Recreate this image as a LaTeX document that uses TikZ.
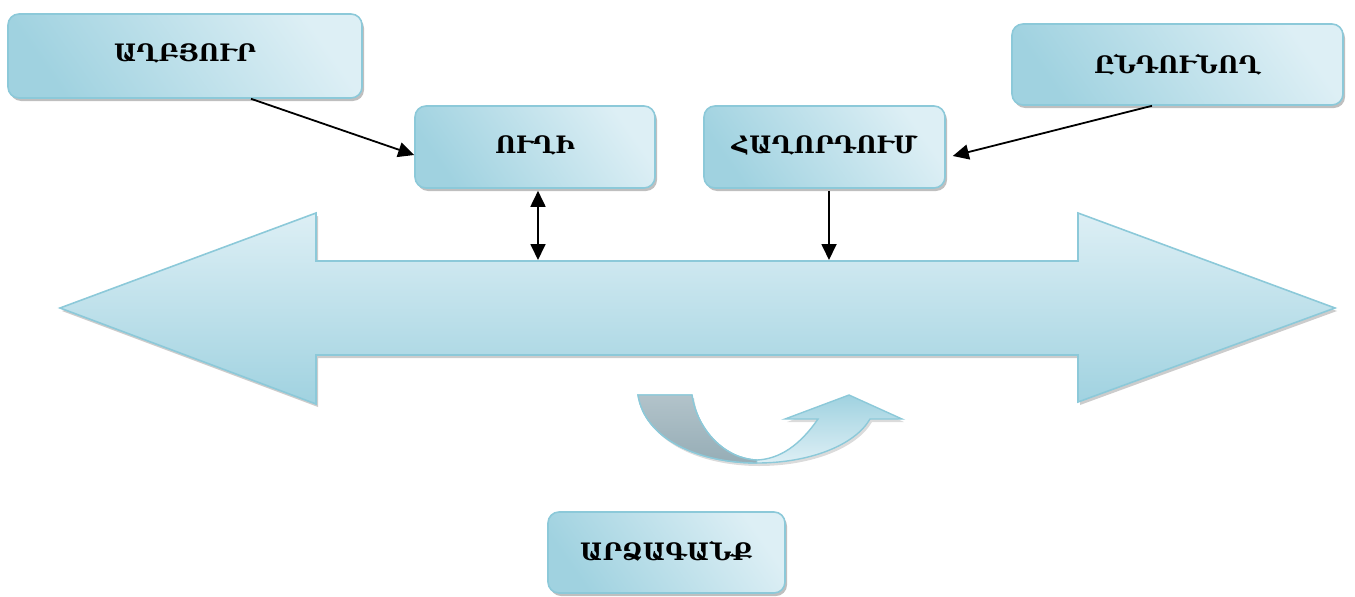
\documentclass[tikz,border=0pt]{standalone}
\usepackage{fontspec}
\setmainfont{DejaVu Serif}
\usetikzlibrary{shadows,arrows.meta,calc}
\definecolor{edgec}{HTML}{8CC9D9}
\definecolor{lightc}{HTML}{DDEFF5}
\definecolor{darkc}{HTML}{A0D2E0}
\definecolor{grayA}{HTML}{B2C3CA}
\definecolor{grayB}{HTML}{96ADB6}
\begin{document}
\begin{tikzpicture}[x=1pt,y=-1pt,
  box/.style={draw=edgec, line width=1.6pt, rounded corners=11pt,
    left color=darkc, right color=lightc, shading angle=125,
    drop shadow={shadow xshift=2pt, shadow yshift=-3pt, fill=black!50, opacity=0.5},
    font=\bfseries\fontsize{24}{28}\selectfont, text=black, inner sep=0pt},
  conn/.style={line width=1.8pt, -{Triangle[length=16pt,width=15pt]}},
  dconn/.style={line width=1.8pt, {Triangle[length=16pt,width=15pt]}-{Triangle[length=16pt,width=15pt]}}]
\useasboundingbox (0,0) rectangle (1355,597);

% big double arrow
\path[draw=edgec, line width=1.6pt, top color=lightc, bottom color=darkc,
  drop shadow={shadow xshift=2pt, shadow yshift=-3pt, fill=black!50, opacity=0.4}]
  (60,308) -- (316,213) -- (316,261) -- (1078,261) -- (1078,213) -- (1335,308)
  -- (1078,402) -- (1078,355) -- (316,355) -- (316,404) -- cycle;
\coordinate (s1) at (538,260);
\coordinate (s2) at (829,260);

% feedback curved arrow
\path[draw=edgec, line width=1.4pt, top color=darkc, bottom color=lightc,
  drop shadow={shadow xshift=2pt, shadow yshift=-3pt, fill=black!40, opacity=0.35}]
  (638,395) .. controls (645,440) and (700,463) .. (757,463)
  .. controls (810,463) and (855,445) .. (870,419) -- (902,419) -- (849,395)
  -- (785,419) -- (818,419) .. controls (800,445) and (780,459) .. (757,460)
  .. controls (725,459) and (697,430) .. (692,395) -- cycle;
\begin{scope}
  \clip (600,380) rectangle (757,470);
  \path[draw=edgec, line width=1.4pt, top color=grayA, bottom color=grayB]
  (638,395) .. controls (645,440) and (700,463) .. (757,463)
  -- (757,460) .. controls (725,459) and (697,430) .. (692,395) -- cycle;
\end{scope}

% boxes
\node[box, minimum width=354pt, minimum height=84pt] (A) at (185,56) {\raisebox{7pt}{ԱՂԲՅՈՒՐ}};
\node[box, minimum width=240pt, minimum height=82pt] (U) at (535,147) {\raisebox{5pt}{ՈՒՂԻ}};
\node[box, minimum width=241pt, minimum height=82pt] (H) at (824.5,147) {\raisebox{5pt}{ՀԱՂՈՐԴՈՒՄ}};
\node[box, minimum width=331pt, minimum height=81pt] (R) at (1177.5,64.5) {ԸՆԴՈՒՆՈՂ};
\node[box, minimum width=237pt, minimum height=81pt] (F) at (666.5,552.5) {\raisebox{3pt}{ԱՐՁԱԳԱՆՔ}};

% connectors
\draw[conn] ([xshift=66pt]A.south) -- ([yshift=-8pt]U.west);
\draw[conn] ([xshift=-25.5pt]R.south) -- ([xshift=7pt,yshift=-9pt]H.east);
\draw[dconn] ([xshift=3pt,yshift=-2pt]U.south) -- (s1);
\draw[conn] ([xshift=4.5pt,yshift=-2pt]H.south) -- (s2);
\end{tikzpicture}
\end{document}
